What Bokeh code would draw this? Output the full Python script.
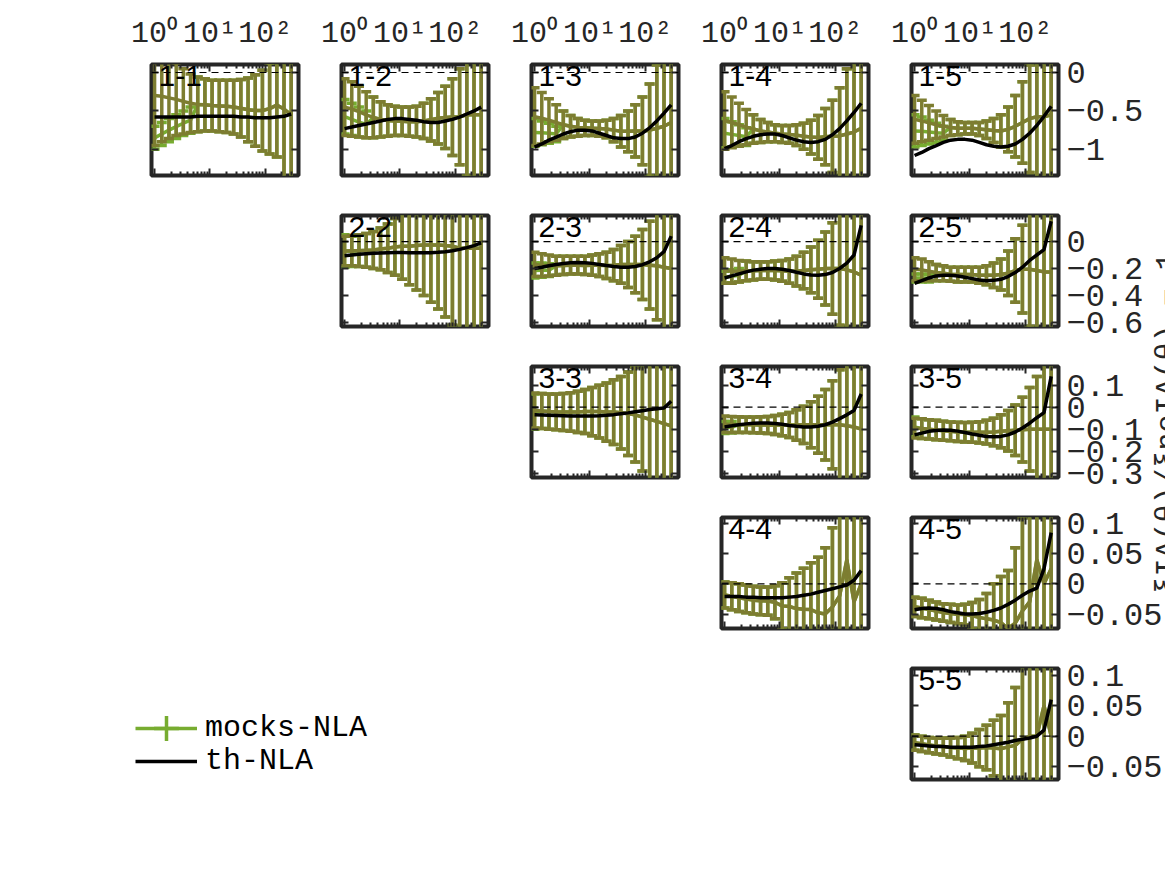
import math
from bokeh.plotting import figure
from bokeh.layouts import column
from bokeh.models import (Range1d, LogAxis, LinearAxis, FixedTicker, CustomJSTickFormatter,
                          Span, Label, Legend, LegendItem, GridBox, ColumnDataSource)
from bokeh.embed import file_html
from bokeh.resources import INLINE

# ---------------- data ----------------
theta = [1.0, 1.35, 1.82, 2.46, 3.31, 4.47, 6.03, 8.13, 10.96, 14.79,
         19.95, 26.92, 36.31, 48.98, 66.07, 89.13, 120.23, 162.18, 218.78, 295.12]

x_ticks = [1, 10, 100]
x_tick_labels = ["10\u2070", "10\u00b9", "10\u00b2"]
x_minor = [2, 3, 4, 5, 6, 7, 8, 9, 20, 30, 40, 50, 60, 70, 80, 90, 200, 300, 400]

row_ylim = [(-1.34, 0.104), (-0.63, 0.193), (-0.32, 0.185), (-0.074, 0.11), (-0.071, 0.111)]
row_yticks = [[0, -0.5, -1], [0, -0.2, -0.4, -0.6], [0.1, 0, -0.1, -0.2, -0.3],
              [0.1, 0.05, 0, -0.05], [0.1, 0.05, 0, -0.05]]
row_ytick_labels = [["0", "\u22120.5", "\u22121"],
                    ["0", "\u22120.2", "\u22120.4", "\u22120.6"],
                    ["0.1", "0", "\u22120.1", "\u22120.2", "\u22120.3"],
                    ["0.1", "0.05", "0", "\u22120.05"],
                    ["0.1", "0.05", "0", "\u22120.05"]]

y_label = "\u03beIA(\u03b8)/\u03benoIA(\u03b8) \u2212 1"
legend_labels = ["mocks-NLA", "th-NLA"]

# panel 1-1
theory_1_1 = [-0.58,-0.58,-0.58,-0.58,-0.58,-0.58,-0.57,-0.57,-0.57,-0.57,-0.57,-0.57,-0.58,-0.58,-0.59,-0.59,-0.59,-0.58,-0.57,-0.54]
olive_hi_1_1 = [0.35,0.28,0.2,0.12,0.05,-0.02,-0.06,-0.08,-0.1,-0.1,-0.1,-0.1,-0.09,-0.07,-0.03,0.03,0.12,0.25,0.45,0.7]
olive_lo_1_1 = [-0.95,-0.9,-0.86,-0.82,-0.8,-0.78,-0.77,-0.76,-0.76,-0.77,-0.78,-0.8,-0.84,-0.9,-0.96,-1.02,-1.06,-1.1,-1.4,-1.8]
green_hi_1_1 = [-0.7,-0.65,-0.6,-0.55,-0.5,-0.45,-0.06,-0.08,-0.1,-0.1,-0.1,-0.1,-0.09,-0.07,-0.03,0.03,0.12,0.25,0.45,0.7]
green_lo_1_1 = [-1.0,-0.95,-0.9,-0.86,-0.82,-0.79,-0.77,-0.76,-0.76,-0.77,-0.78,-0.8,-0.84,-0.9,-0.96,-1.02,-1.06,-1.1,-1.4,-1.8]
# panel 1-2
theory_1_2 = [-0.73,-0.71,-0.69,-0.67,-0.65,-0.63,-0.61,-0.6,-0.6,-0.61,-0.62,-0.64,-0.65,-0.65,-0.63,-0.61,-0.58,-0.54,-0.5,-0.45]
olive_hi_1_2 = [-0.08,-0.12,-0.18,-0.25,-0.32,-0.38,-0.42,-0.44,-0.45,-0.45,-0.44,-0.4,-0.34,-0.26,-0.18,-0.08,0.05,0.25,0.5,0.8]
olive_lo_1_2 = [-0.82,-0.83,-0.84,-0.85,-0.85,-0.84,-0.83,-0.82,-0.82,-0.83,-0.84,-0.86,-0.89,-0.93,-0.99,-1.08,-1.2,-1.35,-1.6,-1.9]
green_hi_1_2 = [-0.35,-0.4,-0.45,-0.5,-0.32,-0.38,-0.42,-0.44,-0.45,-0.45,-0.44,-0.4,-0.34,-0.26,-0.18,-0.08,0.05,0.25,0.5,0.8]
green_lo_1_2 = [-0.8,-0.82,-0.84,-0.85,-0.85,-0.84,-0.83,-0.82,-0.82,-0.83,-0.84,-0.86,-0.89,-0.93,-0.99,-1.08,-1.2,-1.35,-1.6,-1.9]
# panel 1-3
theory_1_3 = [-0.97,-0.93,-0.88,-0.84,-0.8,-0.77,-0.75,-0.75,-0.76,-0.79,-0.82,-0.85,-0.86,-0.86,-0.84,-0.79,-0.72,-0.63,-0.53,-0.42]
olive_hi_1_3 = [-0.2,-0.26,-0.34,-0.42,-0.5,-0.56,-0.6,-0.62,-0.63,-0.63,-0.62,-0.6,-0.56,-0.5,-0.42,-0.32,-0.15,0.1,0.4,0.8]
olive_lo_1_3 = [-0.95,-0.93,-0.9,-0.88,-0.86,-0.84,-0.83,-0.82,-0.82,-0.83,-0.85,-0.9,-0.97,-1.03,-1.1,-1.2,-1.35,-1.55,-1.8,-2.1]
green_hi_1_3 = [-0.6,-0.63,-0.66,-0.7,-0.5,-0.56,-0.6,-0.62,-0.63,-0.63,-0.62,-0.6,-0.56,-0.5,-0.42,-0.32,-0.15,0.1,0.4,0.8]
green_lo_1_3 = [-0.96,-0.94,-0.92,-0.9,-0.86,-0.84,-0.83,-0.82,-0.82,-0.83,-0.85,-0.9,-0.97,-1.03,-1.1,-1.2,-1.35,-1.55,-1.8,-2.1]
# panel 1-4
theory_1_4 = [-0.99,-0.95,-0.9,-0.86,-0.83,-0.81,-0.8,-0.8,-0.82,-0.85,-0.88,-0.9,-0.91,-0.9,-0.87,-0.81,-0.73,-0.63,-0.52,-0.4]
olive_hi_1_4 = [-0.25,-0.32,-0.4,-0.48,-0.55,-0.61,-0.65,-0.68,-0.69,-0.69,-0.68,-0.66,-0.62,-0.56,-0.47,-0.36,-0.2,0.05,0.35,0.75]
olive_lo_1_4 = [-1.0,-0.98,-0.96,-0.94,-0.92,-0.91,-0.9,-0.9,-0.91,-0.92,-0.95,-1.0,-1.06,-1.13,-1.2,-1.3,-1.45,-1.65,-1.9,-2.2]
green_hi_1_4 = [-0.6,-0.64,-0.68,-0.72,-0.55,-0.61,-0.65,-0.68,-0.69,-0.69,-0.68,-0.66,-0.62,-0.56,-0.47,-0.36,-0.2,0.05,0.35,0.75]
green_lo_1_4 = [-0.98,-0.97,-0.96,-0.95,-0.92,-0.91,-0.9,-0.9,-0.91,-0.92,-0.95,-1.0,-1.06,-1.13,-1.2,-1.3,-1.45,-1.65,-1.9,-2.2]
# panel 1-5
theory_1_5 = [-1.08,-1.04,-0.99,-0.95,-0.91,-0.88,-0.87,-0.87,-0.88,-0.91,-0.94,-0.96,-0.97,-0.96,-0.93,-0.87,-0.79,-0.69,-0.57,-0.44]
olive_hi_1_5 = [-0.3,-0.36,-0.43,-0.5,-0.56,-0.61,-0.64,-0.65,-0.65,-0.65,-0.63,-0.6,-0.55,-0.45,-0.3,-0.12,0.1,0.35,0.6,0.9]
olive_lo_1_5 = [-0.92,-0.9,-0.88,-0.86,-0.84,-0.82,-0.81,-0.8,-0.8,-0.82,-0.86,-0.91,-0.97,-1.03,-1.1,-1.18,-1.3,-1.5,-1.75,-2.0]
green_hi_1_5 = [-0.55,-0.58,-0.62,-0.66,-0.7,-0.61,-0.64,-0.65,-0.65,-0.65,-0.63,-0.6,-0.55,-0.45,-0.3,-0.12,0.1,0.35,0.6,0.9]
green_lo_1_5 = [-0.97,-0.95,-0.93,-0.91,-0.88,-0.82,-0.81,-0.8,-0.8,-0.82,-0.86,-0.91,-0.97,-1.03,-1.1,-1.18,-1.3,-1.5,-1.75,-2.0]
# panel 2-2
theory_2_2 = [-0.105,-0.1,-0.095,-0.09,-0.087,-0.085,-0.083,-0.082,-0.082,-0.083,-0.084,-0.084,-0.083,-0.08,-0.075,-0.068,-0.058,-0.045,-0.03,-0.01]
olive_hi_2_2 = [0.04,0.045,0.05,0.06,0.075,0.1,0.13,0.17,0.21,0.25,0.3,0.35,0.4,0.45,0.5,0.55,0.6,0.7,0.8,0.9]
olive_lo_2_2 = [-0.18,-0.18,-0.185,-0.19,-0.2,-0.21,-0.23,-0.25,-0.28,-0.32,-0.36,-0.4,-0.45,-0.5,-0.56,-0.62,-0.7,-0.8,-0.9,-1.0]
green_hi_2_2 = [0.05,0.04,0.05,0.06,0.075,0.1,0.13,0.17,0.21,0.25,0.3,0.35,0.4,0.45,0.5,0.55,0.6,0.7,0.8,0.9]
green_lo_2_2 = [-0.19,-0.185,-0.185,-0.19,-0.2,-0.21,-0.23,-0.25,-0.28,-0.32,-0.36,-0.4,-0.45,-0.5,-0.56,-0.62,-0.7,-0.8,-0.9,-1.0]
# panel 2-3
theory_2_3 = [-0.2,-0.19,-0.18,-0.17,-0.163,-0.158,-0.156,-0.157,-0.162,-0.17,-0.178,-0.185,-0.19,-0.19,-0.185,-0.172,-0.15,-0.12,-0.075,0.04]
olive_hi_2_3 = [-0.08,-0.09,-0.1,-0.11,-0.11,-0.11,-0.11,-0.11,-0.1,-0.09,-0.08,-0.06,-0.03,0.0,0.04,0.09,0.15,0.22,0.3,0.4]
olive_lo_2_3 = [-0.26,-0.26,-0.255,-0.25,-0.245,-0.24,-0.24,-0.245,-0.25,-0.26,-0.275,-0.29,-0.31,-0.34,-0.38,-0.43,-0.5,-0.58,-0.68,-0.8]
green_hi_2_3 = [-0.16,-0.16,-0.165,-0.11,-0.11,-0.11,-0.11,-0.11,-0.1,-0.09,-0.08,-0.06,-0.03,0.0,0.04,0.09,0.15,0.22,0.3,0.4]
green_lo_2_3 = [-0.27,-0.265,-0.26,-0.25,-0.245,-0.24,-0.24,-0.245,-0.25,-0.26,-0.275,-0.29,-0.31,-0.34,-0.38,-0.43,-0.5,-0.58,-0.68,-0.8]
# panel 2-4
theory_2_4 = [-0.27,-0.255,-0.24,-0.225,-0.212,-0.205,-0.2,-0.2,-0.205,-0.215,-0.228,-0.24,-0.248,-0.25,-0.245,-0.23,-0.2,-0.16,-0.1,0.12]
olive_hi_2_4 = [-0.12,-0.13,-0.14,-0.145,-0.15,-0.15,-0.15,-0.145,-0.14,-0.13,-0.11,-0.08,-0.04,0.01,0.07,0.14,0.22,0.3,0.4,0.5]
olive_lo_2_4 = [-0.31,-0.31,-0.3,-0.29,-0.285,-0.28,-0.28,-0.285,-0.295,-0.31,-0.33,-0.35,-0.38,-0.42,-0.47,-0.54,-0.62,-0.72,-0.85,-1.0]
green_hi_2_4 = [-0.22,-0.21,-0.2,-0.145,-0.15,-0.15,-0.15,-0.145,-0.14,-0.13,-0.11,-0.08,-0.04,0.01,0.07,0.14,0.22,0.3,0.4,0.5]
green_lo_2_4 = [-0.31,-0.305,-0.3,-0.29,-0.285,-0.28,-0.28,-0.285,-0.295,-0.31,-0.33,-0.35,-0.38,-0.42,-0.47,-0.54,-0.62,-0.72,-0.85,-1.0]
# panel 2-5
theory_2_5 = [-0.31,-0.29,-0.27,-0.255,-0.25,-0.25,-0.255,-0.265,-0.275,-0.285,-0.29,-0.288,-0.28,-0.26,-0.23,-0.19,-0.14,-0.1,-0.06,0.15]
olive_hi_2_5 = [-0.12,-0.13,-0.15,-0.17,-0.18,-0.19,-0.19,-0.19,-0.19,-0.19,-0.18,-0.16,-0.13,-0.07,0.02,0.12,0.22,0.32,0.45,0.6]
olive_lo_2_5 = [-0.29,-0.29,-0.29,-0.29,-0.29,-0.295,-0.3,-0.3,-0.3,-0.31,-0.32,-0.34,-0.36,-0.4,-0.45,-0.53,-0.63,-0.75,-0.9,-1.05]
green_hi_2_5 = [-0.24,-0.24,-0.245,-0.17,-0.18,-0.19,-0.19,-0.19,-0.19,-0.19,-0.18,-0.16,-0.13,-0.07,0.02,0.12,0.22,0.32,0.45,0.6]
green_lo_2_5 = [-0.3,-0.3,-0.3,-0.29,-0.29,-0.295,-0.3,-0.3,-0.3,-0.31,-0.32,-0.34,-0.36,-0.4,-0.45,-0.53,-0.63,-0.75,-0.9,-1.05]
# panel 3-3
theory_3_3 = [-0.035,-0.036,-0.037,-0.038,-0.039,-0.04,-0.04,-0.04,-0.04,-0.039,-0.037,-0.034,-0.03,-0.026,-0.021,-0.016,-0.011,-0.007,-0.004,0.027]
olive_hi_3_3 = [0.065,0.062,0.06,0.06,0.062,0.066,0.072,0.08,0.09,0.1,0.11,0.125,0.14,0.16,0.18,0.2,0.23,0.27,0.32,0.38]
olive_lo_3_3 = [-0.095,-0.097,-0.1,-0.103,-0.106,-0.11,-0.115,-0.12,-0.13,-0.14,-0.155,-0.17,-0.19,-0.22,-0.25,-0.29,-0.34,-0.4,-0.47,-0.55]
green_hi_3_3 = [0.06,0.062,0.06,0.06,0.062,0.066,0.072,0.08,0.09,0.1,0.11,0.125,0.14,0.16,0.18,0.2,0.23,0.27,0.32,0.38]
green_lo_3_3 = [-0.1,-0.097,-0.1,-0.103,-0.106,-0.11,-0.115,-0.12,-0.13,-0.14,-0.155,-0.17,-0.19,-0.22,-0.25,-0.29,-0.34,-0.4,-0.47,-0.55]
# panel 3-4
theory_3_4 = [-0.09,-0.085,-0.08,-0.076,-0.073,-0.072,-0.072,-0.074,-0.078,-0.083,-0.087,-0.09,-0.09,-0.087,-0.08,-0.068,-0.052,-0.035,-0.015,0.06]
olive_hi_3_4 = [-0.04,-0.042,-0.044,-0.045,-0.045,-0.044,-0.042,-0.038,-0.032,-0.024,-0.012,0.004,0.025,0.05,0.08,0.12,0.17,0.22,0.28,0.35]
olive_lo_3_4 = [-0.115,-0.115,-0.115,-0.115,-0.116,-0.118,-0.12,-0.124,-0.13,-0.138,-0.15,-0.165,-0.185,-0.21,-0.24,-0.28,-0.33,-0.39,-0.46,-0.55]
green_hi_3_4 = [-0.065,-0.065,-0.044,-0.045,-0.045,-0.044,-0.042,-0.038,-0.032,-0.024,-0.012,0.004,0.025,0.05,0.08,0.12,0.17,0.22,0.28,0.35]
green_lo_3_4 = [-0.12,-0.118,-0.115,-0.115,-0.116,-0.118,-0.12,-0.124,-0.13,-0.138,-0.15,-0.165,-0.185,-0.21,-0.24,-0.28,-0.33,-0.39,-0.46,-0.55]
# panel 3-5
theory_3_5 = [-0.126,-0.118,-0.11,-0.106,-0.104,-0.105,-0.109,-0.115,-0.122,-0.128,-0.133,-0.135,-0.133,-0.126,-0.113,-0.095,-0.073,-0.048,-0.025,0.14]
olive_hi_3_5 = [-0.05,-0.053,-0.057,-0.06,-0.064,-0.067,-0.069,-0.07,-0.069,-0.066,-0.06,-0.05,-0.035,-0.015,0.01,0.045,0.09,0.14,0.2,0.28]
olive_lo_3_5 = [-0.14,-0.142,-0.145,-0.148,-0.15,-0.153,-0.156,-0.158,-0.16,-0.163,-0.168,-0.175,-0.185,-0.2,-0.22,-0.25,-0.29,-0.34,-0.4,-0.48]
green_hi_3_5 = [-0.045,-0.053,-0.057,-0.06,-0.064,-0.067,-0.069,-0.07,-0.069,-0.066,-0.06,-0.05,-0.035,-0.015,0.01,0.045,0.09,0.14,0.2,0.28]
green_lo_3_5 = [-0.135,-0.142,-0.145,-0.148,-0.15,-0.153,-0.156,-0.158,-0.16,-0.163,-0.168,-0.175,-0.185,-0.2,-0.22,-0.25,-0.29,-0.34,-0.4,-0.48]
# panel 4-4
theory_4_4 = [-0.021,-0.021,-0.021,-0.022,-0.022,-0.023,-0.023,-0.023,-0.023,-0.022,-0.021,-0.019,-0.017,-0.014,-0.011,-0.008,-0.005,-0.002,0.006,0.022]
olive_hi_4_4 = [0.003,0.002,0.0,-0.002,-0.004,-0.005,-0.005,-0.003,0.002,0.01,0.018,0.026,0.035,0.044,0.06,0.093,0.13,0.2,0.15,0.25]
olive_lo_4_4 = [-0.04,-0.043,-0.046,-0.048,-0.05,-0.051,-0.052,-0.058,-0.075,-0.085,-0.1,-0.11,-0.12,-0.14,-0.16,-0.17,-0.17,-0.12,-0.21,-0.25]
green_hi_4_4 = [0.003,0.002,0.0,-0.002,-0.004,-0.005,-0.005,-0.003,0.002,0.01,0.018,0.026,0.035,0.044,0.06,0.093,0.13,0.2,0.15,0.25]
green_lo_4_4 = [-0.04,-0.043,-0.046,-0.048,-0.05,-0.051,-0.052,-0.058,-0.075,-0.085,-0.1,-0.11,-0.12,-0.14,-0.16,-0.17,-0.17,-0.12,-0.21,-0.25]
# panel 4-5
theory_4_5 = [-0.043,-0.041,-0.04,-0.041,-0.043,-0.046,-0.048,-0.05,-0.05,-0.049,-0.047,-0.044,-0.04,-0.034,-0.027,-0.019,-0.012,-0.007,0.025,0.085]
olive_hi_4_5 = [-0.022,-0.024,-0.027,-0.03,-0.033,-0.034,-0.035,-0.034,-0.031,-0.026,-0.016,0.0,0.012,0.022,0.06,0.11,0.16,0.2,0.3,0.35]
olive_lo_4_5 = [-0.054,-0.056,-0.058,-0.06,-0.062,-0.064,-0.066,-0.068,-0.075,-0.085,-0.1,-0.12,-0.14,-0.17,-0.19,-0.2,-0.22,-0.12,-0.3,-0.3]
green_hi_4_5 = [-0.022,-0.024,-0.027,-0.03,-0.033,-0.034,-0.035,-0.034,-0.031,-0.026,-0.016,0.0,0.012,0.022,0.06,0.11,0.16,0.2,0.3,0.35]
green_lo_4_5 = [-0.054,-0.056,-0.058,-0.06,-0.062,-0.064,-0.066,-0.068,-0.075,-0.085,-0.1,-0.12,-0.14,-0.17,-0.19,-0.2,-0.22,-0.12,-0.3,-0.3]
# panel 5-5
theory_5_5 = [-0.014,-0.015,-0.016,-0.017,-0.017,-0.018,-0.018,-0.018,-0.018,-0.017,-0.016,-0.014,-0.012,-0.01,-0.007,-0.005,-0.003,0.0,0.01,0.06]
olive_hi_5_5 = [0.002,0.0,-0.002,-0.003,-0.003,-0.003,-0.002,0.0,0.005,0.011,0.018,0.026,0.034,0.055,0.08,0.12,0.16,0.2,0.25,0.3]
olive_lo_5_5 = [-0.023,-0.025,-0.027,-0.029,-0.031,-0.034,-0.037,-0.04,-0.044,-0.05,-0.055,-0.065,-0.075,-0.09,-0.11,-0.13,-0.16,-0.2,-0.15,-0.3]
green_hi_5_5 = [0.002,0.0,-0.002,-0.003,-0.003,-0.003,-0.002,0.0,0.005,0.011,0.018,0.026,0.034,0.055,0.08,0.12,0.16,0.2,0.25,0.3]
green_lo_5_5 = [-0.023,-0.025,-0.027,-0.029,-0.031,-0.034,-0.037,-0.04,-0.044,-0.05,-0.055,-0.065,-0.075,-0.09,-0.11,-0.13,-0.16,-0.2,-0.15,-0.3]

# ---------------- style / layout ----------------
OLIVE = "#7d7d31"
GREEN = "#77ac30"
AXC = "#262626"
MONO = "Liberation Mono"
SANS = "Liberation Sans"
XMIN, XMAX = 0.88, 400.0

COL_W = [319, 190, 190, 190, 276]
COL_BL = [151, 22, 22, 22, 22]
COL_BR = [21, 21, 21, 21, 107]
ROW_H = [195, 151, 151, 151, 151]
ROW_BT = [64, 20, 20, 20, 20]
ROW_BB = [20, 20, 20, 20, 20]
FRAME_H = 111

g = globals()


def fmt(ticks, labels):
    return CustomJSTickFormatter(
        args=dict(vals=ticks, labs=labels),
        code="const i = vals.findIndex(v => Math.abs(v - tick) < 1e-9); return i >= 0 ? labs[i] : '';")


BLANK = "return '';"


def no_grid(p):
    for gr in p.grid:
        gr.visible = False


def style_axis(ax, size):
    ax.axis_line_color = None
    ax.major_tick_in = 7
    ax.major_tick_out = 0
    ax.minor_tick_in = 4
    ax.minor_tick_out = 0
    ax.major_tick_line_color = AXC
    ax.minor_tick_line_color = AXC
    ax.major_tick_line_width = 2
    ax.minor_tick_line_width = 2
    ax.major_label_text_font = MONO
    ax.major_label_text_font_size = size
    ax.major_label_text_color = AXC


def panel(r, c):
    key = f"{r + 1}_{c + 1}"
    p = figure(width=COL_W[c], height=ROW_H[r], x_axis_type="log",
               x_range=Range1d(XMIN, XMAX), y_range=Range1d(*row_ylim[r]),
               x_axis_location=None, y_axis_location=None,
               toolbar_location=None, output_backend="svg",
               min_border_left=COL_BL[c], min_border_right=COL_BR[c],
               min_border_top=ROW_BT[r], min_border_bottom=ROW_BB[r],
               outline_line_color=AXC, outline_line_width=4,
               background_fill_color="white", border_fill_color="white")
    no_grid(p)

    xt = FixedTicker(ticks=x_ticks, minor_ticks=x_minor)
    yt = FixedTicker(ticks=row_yticks[r], minor_ticks=[])

    below = LogAxis(ticker=xt, formatter=CustomJSTickFormatter(code=BLANK))
    if r == 0:
        above = LogAxis(ticker=xt, formatter=fmt(x_ticks, x_tick_labels), major_label_standoff=14)
    else:
        above = LogAxis(ticker=xt, formatter=CustomJSTickFormatter(code=BLANK))
    left = LinearAxis(ticker=yt, formatter=CustomJSTickFormatter(code=BLANK))
    if c == 4:
        right = LinearAxis(ticker=yt, formatter=fmt(row_yticks[r], row_ytick_labels[r]), major_label_standoff=8)
    else:
        right = LinearAxis(ticker=yt, formatter=CustomJSTickFormatter(code=BLANK))
    style_axis(below, "30px")
    style_axis(above, "30px")
    style_axis(left, "30px")
    style_axis(right, "32px")
    p.add_layout(below, "below")
    p.add_layout(above, "above")
    p.add_layout(left, "left")
    p.add_layout(right, "right")

    olo = g["olive_lo_" + key]
    ohi = g["olive_hi_" + key]
    glo = g["green_lo_" + key]
    ghi = g["green_hi_" + key]
    src = ColumnDataSource(dict(
        x=theta, olo=olo, ohi=ohi, omid=[(a + b) / 2 for a, b in zip(olo, ohi)],
        glo=glo, ghi=ghi, gmid=[(a + b) / 2 for a, b in zip(glo, ghi)],
        th=g["theory_" + key]))

    lw = 3.5
    # mocks (green) error bars
    p.segment(x0="x", y0="glo", x1="x", y1="ghi", line_color=GREEN, line_width=lw, source=src)
    p.scatter("x", "glo", marker="dash", size=10, line_color=GREEN, line_width=lw, source=src)
    p.scatter("x", "ghi", marker="dash", size=10, line_color=GREEN, line_width=lw, source=src)
    p.line("x", "gmid", line_color=GREEN, line_width=lw, source=src)
    # olive error bars
    p.segment(x0="x", y0="olo", x1="x", y1="ohi", line_color=OLIVE, line_width=lw, source=src)
    p.scatter("x", "olo", marker="dash", size=10, line_color=OLIVE, line_width=lw, source=src)
    p.scatter("x", "ohi", marker="dash", size=10, line_color=OLIVE, line_width=lw, source=src)
    p.line("x", "omid", line_color=OLIVE, line_width=lw, source=src)

    p.add_layout(Span(location=0, dimension="width", line_color="black",
                      line_width=1.2, line_dash="7 5"))
    p.line("x", "th", line_color="black", line_width=3.5, source=src)

    p.add_layout(Label(x=7, y=FRAME_H - 1, x_units="screen", y_units="screen",
                       text=f"{r + 1}-{c + 1}", text_font=SANS, text_font_size="30px",
                       text_baseline="top", text_align="left", text_color="black"))
    return p


children = []
for r in range(5):
    for c in range(r, 5):
        children.append((panel(r, c), r, c))

# legend panel (bottom-left empty area)
leg_w = sum(COL_W[:4])
leg = figure(width=leg_w, height=ROW_H[4], x_range=Range1d(0, 1), y_range=Range1d(0, 1),
             x_axis_location=None, y_axis_location=None, toolbar_location=None,
             output_backend="svg", min_border=0, outline_line_color=None,
             background_fill_color=None, border_fill_color=None)
no_grid(leg)
# legend renderers reuse the 1-1 values, which lie outside this empty frame's range
r_gl = leg.line(x=theta, y=green_lo_1_1, line_color=GREEN, line_width=3.5)
r_gb = leg.scatter(x=theta, y=green_lo_1_1, marker="cross", size=30,
                   line_color=GREEN, line_width=3.5)
r_th = leg.line(x=theta, y=theory_1_1, line_color="black", line_width=3.5)

common = dict(orientation="vertical", glyph_width=62, label_height=30, label_standoff=8,
              spacing=0, padding=0, margin=0, border_line_color=None,
              background_fill_alpha=0, label_text_font=MONO,
              label_text_font_size="30px", label_text_color="black")
legend_a = Legend(items=[LegendItem(label=legend_labels[0], renderers=[r_gl, r_gb])],
                  location=(135, 36), glyph_height=70, **common)
legend_b = Legend(items=[LegendItem(label=legend_labels[1], renderers=[r_th])],
                  location=(135, 21), glyph_height=30, **common)
leg.add_layout(legend_a)
leg.add_layout(legend_b)
children.append((column(leg), 4, 0, 1, 4))

# shared y label (partly outside the page, as in the original)
yl_h = sum(ROW_H[1:4])
yl = figure(width=COL_W[4], height=yl_h, x_range=Range1d(0, 1), y_range=Range1d(0, 1),
            x_axis_location=None, y_axis_location=None, toolbar_location=None,
            output_backend="svg", min_border=0, outline_line_color=None,
            background_fill_color=None, border_fill_color=None)
no_grid(yl)
yl.add_layout(Label(x=COL_W[4] + 2, y=225, x_units="screen", y_units="screen",
                    text=y_label, angle=math.pi / 2, text_align="center",
                    text_baseline="alphabetic", text_font=MONO, text_font_size="30px",
                    text_color=AXC))
children.append((column(yl), 1, 4, 3, 1))

grid = GridBox(children=children, spacing=0)

open("out.html", "w").write(file_html(grid, INLINE))
